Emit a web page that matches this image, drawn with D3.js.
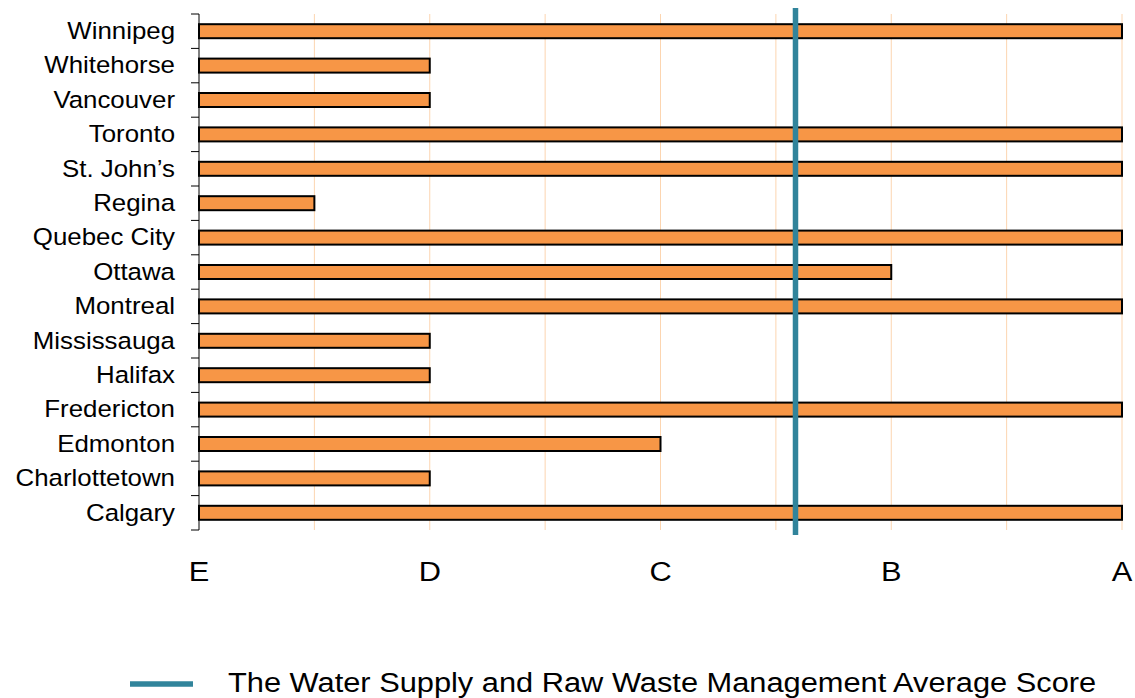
<!DOCTYPE html>
<html><head><meta charset="utf-8">
<script src="https://cdn.jsdelivr.net/npm/d3@7"></script>
<style>body{margin:0;background:#fff;} svg{display:block;font-family:"Liberation Sans",Arial,sans-serif;}</style>
</head><body>
<svg id="c" width="1135" height="698"></svg>
<script>
const cities = ["Winnipeg","Whitehorse","Vancouver","Toronto","St. John’s","Regina","Quebec City","Ottawa","Montreal","Mississauga","Halifax","Fredericton","Edmonton","Charlottetown","Calgary"];
const scores = [8,2,2,8,8,1,8,6,8,2,2,8,4,2,8];
const gradeTicks = [0,2,4,6,8];
const gradeLabels = ["E","D","C","B","A"];
const averageScore = 5.17;
const legendLabel = "The Water Supply and Raw Waste Management Average Score";

(function(){
const svg = d3.select("#c");
const L = 199, R = 1122, T = 14, B = 530;
const SX = 1.1;
const x = d3.scaleLinear().domain([0,8]).range([L,R]);
const yb = d3.scaleBand().domain(cities).range([T,B]);

// gridlines
svg.append("g").selectAll("line").data(d3.range(1,9)).join("line")
  .attr("x1",d=>x(d)).attr("x2",d=>x(d)).attr("y1",T).attr("y2",B)
  .attr("stroke","#fcd5b0").attr("stroke-width",1);

// bars
svg.append("g").selectAll("rect").data(cities).join("rect")
  .attr("x",x(0)).attr("y",(d)=>yb(d)+yb.bandwidth()/2-7)
  .attr("width",(d,i)=>x(scores[i])-x(0)).attr("height",14)
  .attr("fill","#f79646").attr("stroke","#000").attr("stroke-width",2);

// y axis
const ya = svg.append("g");
ya.append("line").attr("x1",L).attr("x2",L).attr("y1",T).attr("y2",B).attr("stroke","#000").attr("stroke-width",1);
const bounds = cities.map(c=>yb(c)).concat([B]);
ya.selectAll("line.t").data(bounds).join("line").attr("class","t")
  .attr("x1",L-8).attr("x2",L).attr("y1",d=>d).attr("y2",d=>d).attr("stroke","#000");
ya.selectAll("text").data(cities).join("text")
  .attr("transform",d=>`translate(175,${yb(d)+yb.bandwidth()/2}) scale(${SX},1)`)
  .attr("dy","0.33em")
  .attr("text-anchor","end").attr("font-size",23.5).attr("fill","#000").text(d=>d);

// x labels
svg.append("g").selectAll("text").data(gradeTicks).join("text")
  .attr("transform",d=>`translate(${x(d)},581) scale(${SX},1)`)
  .attr("text-anchor","middle")
  .attr("font-size",28).attr("fill","#000").text((d,i)=>gradeLabels[i]);

// average line
svg.append("line").attr("x1",x(averageScore)).attr("x2",x(averageScore))
  .attr("y1",8).attr("y2",535).attr("stroke","#31849b").attr("stroke-width",5.5);

// legend
svg.append("line").attr("x1",130).attr("x2",193).attr("y1",684).attr("y2",684)
  .attr("stroke","#31849b").attr("stroke-width",5.5);
svg.append("text").attr("transform",`translate(228,692) scale(${SX},1)`)
  .attr("font-size",28).attr("fill","#000").text(legendLabel);
})();
</script>
</body></html>
